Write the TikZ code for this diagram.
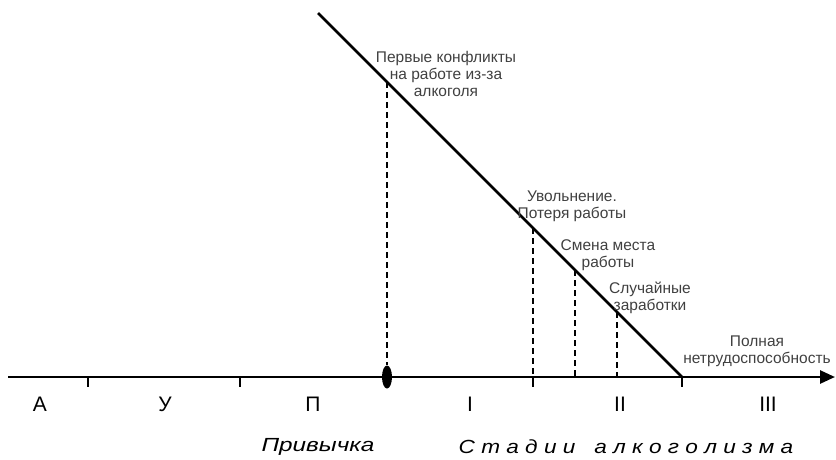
\documentclass[tikz,border=0pt]{standalone}
\usepackage{fontspec}
\setmainfont{Liberation Sans}
\usepackage{tikz}
\usetikzlibrary{shapes,arrows.meta}
\usetikzlibrary{positioning}

\begin{document}
\begin{tikzpicture}[x=1pt,y=-1pt,
  lbl/.style={font=\fontsize{15.5}{17}\selectfont,align=center,inner sep=0pt,text=black!75},
  stage/.style={font=\fontsize{21}{22}\selectfont,inner sep=0pt},
  axisline/.style={line width=2.6pt},
  drop/.style={line width=1.8pt,dash pattern=on 6pt off 4pt}]
  \useasboundingbox (0,0) rectangle (836,459);

  \def \ay {377}

  \begin{scope}

    % time axis
    \coordinate (start) at (8,\ay);
    \coordinate (end) at (835,\ay);
    \draw[axisline,-{Triangle[length=15pt,width=13pt]}] (start) -- (end);

    \foreach \x/\n in {88/t1,240/t2,533/t3,682/t4}{
      \coordinate (\n) at (\x,\ay);
      \draw[line width=1.8pt] (\n) -- ++(0,10);
    }

    \node[ellipse,fill,minimum width=10pt,minimum height=23pt,inner sep=0pt]
      (habit) at (387,\ay) {};

    % work decline
    \coordinate (top) at (318,13);
    \draw[axisline] (top) -- (t4);

    \coordinate (p1) at (387,82);
    \coordinate (p2) at (533,228);
    \coordinate (p3) at (575,270);
    \coordinate (p4) at (617,312);
    \draw[drop] (p1) -- (habit);
    \draw[drop] (p2) -- (t3);
    \draw[drop] (p3) -- (575,\ay);
    \draw[drop] (p4) -- (617,\ay);

    \node[lbl] (conf) at (446,74) {Первые конфликты\\на работе из-за\\алкоголя};
    \node[lbl] (fire) at (572,206) {Увольнение.\\Потеря работы};
    \node[lbl] (change) at (608,255) {Смена места\\работы};
    \node[lbl] (odd) at (650,298) {Случайные\\заработки};
    \node[lbl] (total) at (757,351) {Полная\\нетрудоспособность};

  \end{scope}

  % stages
  \def \sy {404}
  \node[stage] (A) at (40,\sy) {А};
  \node[stage] (U) at (165,\sy) {У};
  \node[stage] (P) at (313,\sy) {П};
  \node[stage] (s1) at (470,\sy) {I};
  \node[stage] (s2) at (620,\sy) {II};
  \node[stage] (s3) at (768,\sy) {III};

  \node[stage,font=\fontsize{19}{20}\selectfont\itshape] (habitname) at (318,447)
    {\scalebox{1.28}[1]{Привычка}};
  \node[stage,font=\fontsize{19}{20}\selectfont\itshape] (stages) at (626,447)
    {\scalebox{1.19}[1]{С т а д и и \ \ а л к о г о л и з м а}};

\end{tikzpicture}
\end{document}
